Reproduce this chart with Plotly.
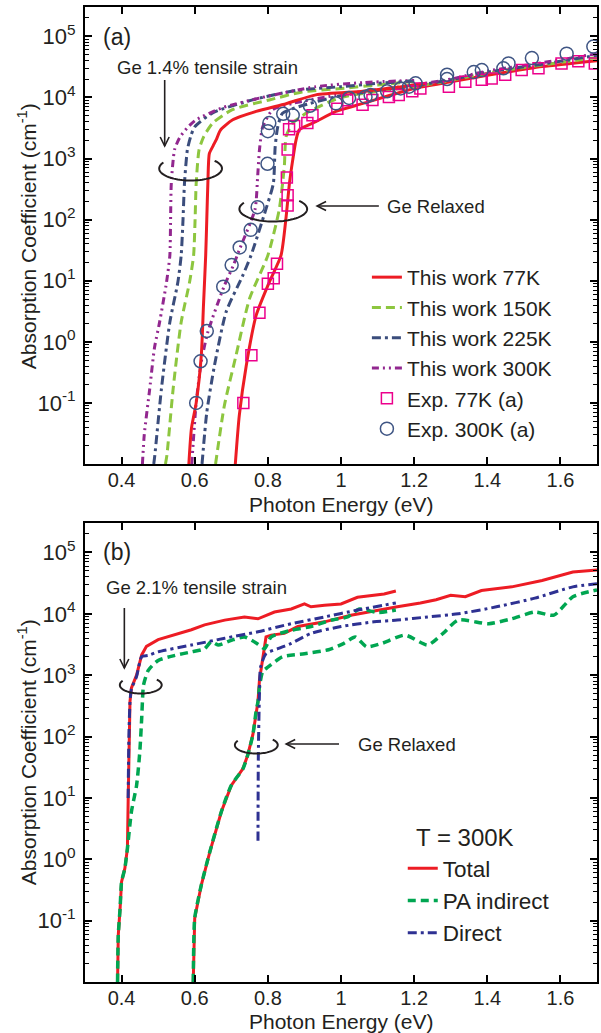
import math
import plotly.graph_objects as go

# ---------------- Panel (a) data ----------------
e77_strain = [0.584, 0.591, 0.604, 0.618, 0.624, 0.630, 0.633, 0.636, 0.640, 0.650, 0.660, 0.670, 0.704, 0.768, 0.850, 0.931, 1.060, 1.150, 1.232]
a77_strain = [0.01, 0.038, 0.1, 0.6, 4.0, 26, 100, 400, 1200, 1600, 2100, 2900, 4300, 5900, 7900, 1.1e4, 1.26e4, 1.45e4, 1.7e4]
e150_strain = [0.520, 0.524, 0.541, 0.563, 0.586, 0.597, 0.601, 0.604, 0.612, 0.625, 0.649, 0.703, 0.804, 0.894, 1.000, 1.100, 1.210]
a150_strain = [0.01, 0.014, 0.17, 2.1, 9.5, 26, 100, 390, 1400, 2300, 3800, 6300, 9100, 1.23e4, 1.4e4, 1.6e4, 1.85e4]
e225_strain = [0.488, 0.491, 0.509, 0.532, 0.554, 0.563, 0.568, 0.572, 0.580, 0.590, 0.600, 0.649, 0.758, 0.877, 1.000, 1.100, 1.200]
a225_strain = [0.01, 0.014, 0.17, 2.1, 9.5, 26, 100, 390, 1400, 2400, 3300, 5600, 9100, 1.3e4, 1.5e4, 1.7e4, 1.86e4]
e300_strain = [0.457, 0.462, 0.477, 0.490, 0.504, 0.523, 0.532, 0.534, 0.536, 0.545, 0.559, 0.580, 0.604, 0.676, 0.785, 0.931, 1.060, 1.200]
a300_strain = [0.01, 0.03, 0.17, 0.8, 2.1, 9.5, 26, 100, 400, 1400, 2200, 3200, 4300, 6800, 1.0e4, 1.5e4, 1.75e4, 1.9e4]

e77_relax = [0.711, 0.722, 0.741, 0.768, 0.804, 0.836, 0.850, 0.859, 0.868, 0.877, 0.886, 0.931, 0.986, 1.058, 1.200, 1.300, 1.400, 1.550, 1.700]
a77_relax = [0.01, 0.063, 0.41, 2.7, 9.5, 26, 112, 390, 950, 2000, 2950, 4000, 5900, 7900, 1.4e4, 1.8e4, 2.3e4, 3.2e4, 4.0e4]
e150_relax = [0.657, 0.681, 0.713, 0.750, 0.800, 0.831, 0.845, 0.850, 0.868, 0.913, 1.000, 1.200, 1.300, 1.400, 1.550, 1.700]
a150_relax = [0.01, 0.09, 0.6, 5.1, 26, 145, 740, 2300, 3800, 5900, 1.0e4, 1.5e4, 1.9e4, 2.5e4, 3.4e4, 4.5e4]
e225_relax = [0.620, 0.633, 0.654, 0.686, 0.731, 0.754, 0.795, 0.815, 0.820, 0.827, 0.840, 0.886, 1.000, 1.200, 1.300, 1.400, 1.550, 1.700]
a225_relax = [0.01, 0.07, 0.41, 3.1, 12, 26, 150, 390, 1550, 3300, 5500, 7100, 1.07e4, 1.55e4, 1.95e4, 2.6e4, 3.5e4, 4.9e4]
e300_relax = [0.592, 0.604, 0.618, 0.636, 0.680, 0.706, 0.722, 0.765, 0.772, 0.777, 0.786, 0.813, 0.868, 1.000, 1.200, 1.300, 1.400, 1.550, 1.700]
a300_relax = [0.01, 0.1, 0.47, 1.45, 8, 18, 32, 148, 500, 1380, 3300, 6300, 8000, 1.12e4, 1.6e4, 2.0e4, 2.7e4, 3.7e4, 5.2e4]

exp77_e = [0.733, 0.755, 0.777, 0.800, 0.816, 0.825, 0.854, 0.854, 0.852, 0.854, 0.858, 0.872, 0.908, 0.922, 0.990, 1.017, 1.059, 1.086, 1.131, 1.158, 1.195, 1.217, 1.295, 1.340, 1.385, 1.412, 1.449, 1.494, 1.540, 1.603, 1.649, 1.694]
exp77_a = [0.1, 0.6, 3.0, 8.9, 11, 19, 170, 250, 490, 1400, 3000, 3400, 3800, 5100, 6500, 9000, 7600, 9100, 1.02e4, 1.1e4, 1.26e4, 1.4e4, 1.5e4, 1.8e4, 1.95e4, 2.05e4, 2.35e4, 2.8e4, 3.0e4, 3.6e4, 3.9e4, 3.6e4]
exp300_e = [0.604, 0.616, 0.633, 0.678, 0.701, 0.723, 0.753, 0.772, 0.799, 0.800, 0.804, 0.842, 0.868, 0.915, 0.986, 1.022, 1.067, 1.081, 1.126, 1.163, 1.186, 1.204, 1.290, 1.290, 1.363, 1.385, 1.444, 1.458, 1.522, 1.617, 1.690]
exp300_a = [0.1, 0.48, 1.5, 8.0, 18, 35, 68, 160, 820, 2800, 3800, 5400, 5100, 7300, 8000, 9800, 1.02e4, 1.1e4, 1.26e4, 1.4e4, 1.5e4, 1.7e4, 2.0e4, 2.35e4, 2.6e4, 2.8e4, 3.0e4, 3.6e4, 4.4e4, 5.2e4, 6.8e4]

# ---------------- Panel (b) data ----------------
e_tot_strain = [0.389, 0.391, 0.396, 0.400, 0.409, 0.416, 0.418, 0.420, 0.423, 0.427, 0.441, 0.455, 0.468, 0.500, 0.546, 0.591, 0.627, 0.682, 0.736, 0.773, 0.818, 0.864, 0.900, 0.918, 0.955, 1.000, 1.045, 1.082, 1.118, 1.150]
a_tot_strain = [0.01, 0.058, 0.16, 0.43, 0.71, 1.5, 8.7, 107, 370, 620, 1000, 2140, 2950, 3800, 4600, 5500, 6600, 7900, 8900, 8300, 1.07e4, 1.2e4, 1.45e4, 1.3e4, 1.38e4, 1.45e4, 1.86e4, 1.95e4, 2.1e4, 2.35e4]
e_pa_strain = [0.389, 0.391, 0.396, 0.400, 0.409, 0.416, 0.427, 0.441, 0.450, 0.455, 0.457, 0.460, 0.473, 0.500, 0.546, 0.591, 0.627, 0.645, 0.664, 0.700, 0.736, 0.773, 0.791, 0.809, 0.864, 0.918, 0.973, 1.018, 1.050, 1.100, 1.150]
a_pa_strain = [0.01, 0.058, 0.16, 0.43, 0.71, 1.5, 6.0, 16, 58, 200, 370, 690, 1200, 1740, 2100, 2400, 2700, 3500, 3100, 3700, 4200, 3200, 2700, 4200, 5400, 6200, 7900, 8900, 1.2e4, 1.05e4, 1.15e4]
e_dir_strain = [0.418, 0.420, 0.423, 0.427, 0.441, 0.455, 0.473, 0.500, 0.591, 0.682, 0.773, 0.864, 0.955, 1.045, 1.150]
a_dir_strain = [10, 100, 360, 600, 950, 2000, 2100, 2400, 3100, 4000, 5100, 6900, 8900, 1.15e4, 1.5e4]

e_tot_relax = [0.596, 0.597, 0.600, 0.618, 0.641, 0.673, 0.700, 0.732, 0.745, 0.759, 0.768, 0.773, 0.777, 0.786, 0.795, 0.809, 0.845, 0.882, 0.955, 1.027, 1.100, 1.154, 1.217, 1.260, 1.300, 1.340, 1.384, 1.467, 1.550, 1.634, 1.700]
a_tot_relax = [0.01, 0.031, 0.11, 0.38, 1.3, 6.0, 16, 30, 50, 107, 260, 370, 830, 1740, 4200, 4500, 4800, 6200, 7400, 9500, 1.15e4, 1.3e4, 1.5e4, 1.7e4, 2.0e4, 1.9e4, 2.4e4, 2.75e4, 3.5e4, 4.8e4, 5.2e4]
e_pa_relax = [0.596, 0.597, 0.600, 0.618, 0.641, 0.673, 0.700, 0.732, 0.745, 0.759, 0.768, 0.773, 0.777, 0.786, 0.800, 0.840, 0.900, 0.966, 1.008, 1.039, 1.070, 1.112, 1.175, 1.237, 1.279, 1.320, 1.404, 1.467, 1.530, 1.582, 1.634, 1.700]
a_pa_relax = [0.01, 0.031, 0.11, 0.38, 1.3, 6.0, 16, 30, 50, 107, 260, 370, 650, 1150, 1350, 2000, 2240, 2600, 3300, 4200, 2900, 3300, 4500, 3100, 4800, 7900, 6900, 8300, 1.07e4, 9500, 1.9e4, 2.45e4]
e_dir_relax = [0.773, 0.774, 0.777, 0.780, 0.795, 0.827, 0.864, 0.918, 1.000, 1.090, 1.154, 1.237, 1.321, 1.425, 1.530, 1.634, 1.700]
a_dir_relax = [2.0, 52, 500, 1350, 2240, 2700, 3300, 4800, 6200, 7400, 7900, 8900, 1.0e4, 1.3e4, 1.8e4, 2.75e4, 3.1e4]

x_tickvals = [0.4, 0.6, 0.8, 1.0, 1.2, 1.4, 1.6]
x_ticktext = ["0.4", "0.6", "0.8", "1", "1.2", "1.4", "1.6"]
y_tickvals = [0.1, 1, 10, 100, 1000, 1e4, 1e5]
y_ticktext = ["10<sup>-1</sup>", "10<sup>0</sup>", "10<sup>1</sup>", "10<sup>2</sup>",
              "10<sup>3</sup>", "10<sup>4</sup>", "10<sup>5</sup>"]

# ---------------- layout geometry ----------------
W, H = 601, 1033
ML, MR, MT, MB = 85, 2, 7, 51
PW = W - ML - MR
PH = H - MT - MB


def px(x):
    return (x - ML) / PW


def py(y):
    return (H - MB - y) / PH


FONT = "Liberation Sans, Arial, Helvetica, sans-serif"
TXT = "#231F20"

RED = "#ED1C24"
LGREEN = "#8DC63F"
NAVY = "#3B4D7C"
PURPLE = "#92278F"
MAGENTA = "#EC008C"
CIRC = "#3F5584"
GREEN = "#00A651"
BLUE = "#2E3192"

DASH_G = "9px,5px"
DASH_N = "9px,4px,3px,4px"
DASH_P = "7px,4px,2px,4px,2px,4px"

fig = go.Figure()


def line(x, y, name, color, dash, width, xa, ya, show, legend, group, shape="spline"):
    fig.add_trace(go.Scatter(
        x=x, y=y, mode="lines", name=name,
        line=dict(color=color, dash=dash, width=width, shape=shape, smoothing=0.6),
        xaxis=xa, yaxis=ya, showlegend=show, legend=legend, legendgroup=group))


# Panel (a)
line(e77_relax, a77_relax, "This work 77K", RED, "solid", 3, "x", "y", True, "legend", "77")
line(e150_relax, a150_relax, "This work 150K", LGREEN, DASH_G, 3, "x", "y", True, "legend", "150")
line(e225_relax, a225_relax, "This work 225K", NAVY, DASH_N, 3, "x", "y", True, "legend", "225")
line(e300_relax, a300_relax, "This work 300K", PURPLE, DASH_P, 3, "x", "y", True, "legend", "300")
line(e77_strain, a77_strain, "This work 77K", RED, "solid", 3, "x", "y", False, "legend", "77")
line(e150_strain, a150_strain, "This work 150K", LGREEN, DASH_G, 3, "x", "y", False, "legend", "150")
line(e225_strain, a225_strain, "This work 225K", NAVY, DASH_N, 3, "x", "y", False, "legend", "225")
line(e300_strain, a300_strain, "This work 300K", PURPLE, DASH_P, 3, "x", "y", False, "legend", "300")

fig.add_trace(go.Scatter(
    x=exp77_e, y=exp77_a, mode="markers", name="Exp. 77K (a)",
    marker=dict(symbol="square-open", size=11, color=MAGENTA, line=dict(width=1.5, color=MAGENTA)),
    xaxis="x", yaxis="y", legend="legend"))
fig.add_trace(go.Scatter(
    x=exp300_e, y=exp300_a, mode="markers", name="Exp. 300K (a)",
    marker=dict(symbol="circle-open", size=13, color=CIRC, line=dict(width=1.5, color=CIRC)),
    xaxis="x", yaxis="y", legend="legend"))

# Panel (b)
line(e_tot_relax, a_tot_relax, "Total", RED, "solid", 3, "x2", "y2", True, "legend2", "tot", "linear")
line(e_tot_strain, a_tot_strain, "Total", RED, "solid", 3, "x2", "y2", False, "legend2", "tot", "linear")
line(e_pa_relax, a_pa_relax, "PA indirect", GREEN, "8px,5px", 3.5, "x2", "y2", True, "legend2", "pa", "spline")
line(e_pa_strain, a_pa_strain, "PA indirect", GREEN, "8px,5px", 3.5, "x2", "y2", False, "legend2", "pa", "spline")
line(e_dir_relax, a_dir_relax, "Direct", BLUE, "9px,4px,3px,4px", 3, "x2", "y2", True, "legend2", "dir", "spline")
line(e_dir_strain, a_dir_strain, "Direct", BLUE, "9px,4px,3px,4px", 3, "x2", "y2", False, "legend2", "dir", "spline")

# ---------------- axes ----------------
minor_vals = [m * 10 ** d for d in range(-2, 6) for m in range(2, 10)]

axis_common = dict(showline=True, linecolor="black", linewidth=2, mirror="ticks",
                   ticks="inside", ticklen=7, tickwidth=1.5, tickcolor="black",
                   showgrid=False, zeroline=False)

xcommon = dict(range=[0.3, 1.7], tickvals=x_tickvals, ticktext=x_ticktext,
               tickfont=dict(family=FONT, size=20, color=TXT), ticklabelstandoff=-3,
               domain=[0, 1], **axis_common)
ycommon = dict(type="log", range=[-2, 5.48], tickvals=y_tickvals, ticktext=y_ticktext,
               tickfont=dict(family=FONT, size=22, color=TXT), ticklabelstandoff=3,
               minor=dict(tickvals=minor_vals, ticks="inside", ticklen=4, tickwidth=1,
                          tickcolor="black", showgrid=False), **axis_common)

top_dom = [py(464), 1]
bot_dom = [0, py(523)]

fig.update_layout(
    width=W, height=H,
    margin=dict(l=ML, r=MR, t=MT, b=MB, pad=0),
    paper_bgcolor="white", plot_bgcolor="white",
    font=dict(family=FONT, color=TXT),
    xaxis=dict(anchor="y", **xcommon),
    yaxis=dict(anchor="x", **dict(ycommon, domain=top_dom)),
    xaxis2=dict(anchor="y2", **xcommon),
    yaxis2=dict(anchor="x2", **dict(ycommon, domain=bot_dom)),
    legend=dict(x=px(368), y=py(257), xanchor="left", yanchor="top",
                font=dict(family=FONT, size=21, color=TXT), bgcolor="rgba(0,0,0,0)",
                borderwidth=0, tracegroupgap=0),
    legend2=dict(x=px(404), y=py(847), xanchor="left", yanchor="top",
                 font=dict(family=FONT, size=22.5, color=TXT), bgcolor="rgba(0,0,0,0)",
                 borderwidth=0, tracegroupgap=0),
    showlegend=True,
)

# ---------------- annotations ----------------
ann = []


def text(x, y, s, size, anchor="center", angle=0):
    ann.append(dict(x=px(x), y=py(y), xref="paper", yref="paper", text=s, showarrow=False,
                    xanchor=anchor, yanchor="middle", textangle=angle,
                    font=dict(family=FONT, size=size, color=TXT)))


text(117, 37, "(a)", 23)
text(117, 552, "(b)", 23)
text(208, 67, "Ge 1.4% tensile strain", 18.5)
text(386, 206, "Ge Relaxed", 18.5, anchor="left")
text(197, 588, "Ge 2.1% tensile strain", 18.5)
text(357, 744, "Ge Relaxed", 18.5, anchor="left")
text(466, 837, "T = 300K", 24)
text(342, 504, "Photon Energy (eV)", 21)
text(342, 1021, "Photon Energy (eV)", 21)
text(27, 236, "Absorption Coefficient (cm<sup>-1</sup>)", 21, angle=-90)
text(27, 752, "Absorption Coefficient (cm<sup>-1</sup>)", 21, angle=-90)
fig.update_layout(annotations=ann)

# ---------------- decorations: arrows & rings ----------------
shapes = []


def path_from(points):
    return "M " + " L ".join(f"{px(a):.5f},{py(b):.5f}" for a, b in points)


def arrow(x0, y0, x1, y1, hl=9, hw=4.5):
    shapes.append(dict(type="path", xref="paper", yref="paper",
                       path=path_from([(x0, y0), (x1, y1)]),
                       line=dict(color="#231F20", width=1.6)))
    dx, dy = x1 - x0, y1 - y0
    L = math.hypot(dx, dy)
    ux, uy = dx / L, dy / L
    bx, by = x1 - ux * hl, y1 - uy * hl
    p1 = (bx - uy * hw, by + ux * hw)
    p2 = (bx + uy * hw, by - ux * hw)
    shapes.append(dict(type="path", xref="paper", yref="paper",
                       path=path_from([p1, (x1, y1), p2]),
                       line=dict(color="#231F20", width=1.6)))


def ring(cx, cy, rx, ry, t0=150, t1=400):
    pts = []
    n = 60
    for i in range(n + 1):
        t = math.radians(t0 + (t1 - t0) * i / n)
        pts.append((cx + rx * math.cos(t), cy - ry * math.sin(t)))
    shapes.append(dict(type="path", xref="paper", yref="paper", path=path_from(pts),
                       line=dict(color="#231F20", width=2)))


arrow(165, 80, 165, 146)
arrow(380, 206, 318, 206)
arrow(124.5, 608, 124.5, 668)
arrow(340, 744, 287, 744)
ring(191, 168.5, 31.5, 12)
ring(274, 209, 34, 12.5)
ring(141, 685, 21, 8.5)
ring(257, 745, 21.5, 8.5)
fig.update_layout(shapes=shapes)

fig.write_html("out.html")
